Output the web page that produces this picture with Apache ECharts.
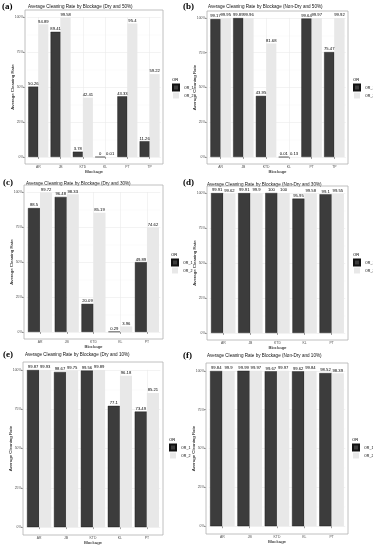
<!DOCTYPE html>
<html><head><meta charset="utf-8">
<script src="https://cdn.jsdelivr.net/npm/echarts@6/dist/echarts.min.js"></script>
<style>html,body{margin:0;padding:0;background:#fff}#c{width:373px;height:550px}</style>
</head><body><div id="c"></div>
<script>
// ---------- data ----------
const catsAB = ['AR', 'JB', 'KTD', 'KL', 'PT', 'TP'];
const catsCF = ['AR', 'JB', 'KTD', 'KL', 'PT'];
const seriesNames = ['OR_1', 'OR_2'];
const yTickValues = [0, 25, 50, 75, 100];

const a_OR1 = [50.26, 89.41, 3.78, 0, 43.33, 11.26];
const a_OR2 = [94.89, 99.58, 42.41, 0.01, 95.4, 59.22];
const b_OR1 = [99.17, 99.89, 43.95, 0.01, 99.64, 75.47];
const b_OR2 = [99.95, 99.96, 81.68, 0.13, 99.97, 99.92];
const c_OR1 = [88.5, 96.48, 20.09, 0.29, 49.89];
const c_OR2 = [99.72, 98.33, 85.19, 3.96, 74.62];
const d_OR1 = [99.91, 99.91, 100, 95.95, 99.1];
const d_OR2 = [99.62, 99.9, 100, 99.58, 99.55];
const e_OR1 = [99.87, 98.67, 99.56, 77.1, 73.49];
const e_OR2 = [99.93, 99.75, 99.89, 96.18, 85.21];
const f_OR1 = [99.84, 99.99, 99.67, 99.62, 98.52];
const f_OR2 = [99.9, 99.97, 99.97, 99.84, 98.39];

const titles = [
  'Average Cleaning Rate by Blockage (Dry and 50%)',
  'Average Cleaning Rate by Blockage (Non-Dry and 50%)',
  'Average Cleaning Rate by Blockage (Dry and 30%)',
  'Average Cleaning Rate by Blockage (Non-Dry and 30%)',
  'Average Cleaning Rate by Blockage (Dry and 10%)',
  'Average Cleaning Rate by Blockage (Non-Dry and 10%)'
];
const tags = ['(a)', '(b)', '(c)', '(d)', '(e)', '(f)'];
const xTitle = 'Blockage';
const yTitle = 'Average Cleaning Rate';
const legendTitle = 'OR';

// ---------- layout (pixels) ----------
const layout = [
  {box: [25, 10, 163, 164], tag: [2, 7], title: [28, 7], leg: [172, 80]},
  {box: [207, 11, 348, 164], tag: [183, 7], title: [208, 7], leg: [353, 80]},
  {box: [24, 185, 163, 339], tag: [3, 183], title: [26, 184], leg: [171, 255]},
  {box: [207, 186, 348, 340], tag: [183, 183], title: [207, 185], leg: [353, 255]},
  {box: [23, 362, 163, 535], tag: [3, 355], title: [25, 355], leg: [169, 440]},
  {box: [206, 363, 348, 534], tag: [183, 356], title: [207, 356], leg: [352, 440]}
];
const panelData = [
  [catsAB, a_OR1, a_OR2], [catsAB, b_OR1, b_OR2],
  [catsCF, c_OR1, c_OR2], [catsCF, d_OR1, d_OR2],
  [catsCF, e_OR1, e_OR2], [catsCF, f_OR1, f_OR2]
];

const FONT = '"Liberation Sans", Arial, sans-serif';
const DARK = '#3c3c3c', LIGHT = '#e8e8e8';

const chart = echarts.init(document.getElementById('c'), null, {renderer: 'canvas'});
const grid = [], xAxis = [], yAxis = [], series = [], legend = [], graphic = [];

layout.forEach((L, i) => {
  const [cats, or1, or2] = panelData[i];
  const [x0, y0, x1, y1] = L.box;
  const n = cats.length;
  const uw = (x1 - x0) / (n + 0.2);
  const uh = (y1 - y0) / 110;
  const gl = x0 + 0.1 * uw, gr = x1 - 0.1 * uw, gt = y0 + 5 * uh, gb = y1 - 5 * uh;
  grid.push({left: gl, top: gt, width: gr - gl, height: gb - gt, show: false,
    containLabel: false, outerBoundsMode: 'none'});
  xAxis.push({
    type: 'category', gridIndex: i, data: cats, offset: 5 * uh,
    axisLine: {show: false},
    axisTick: {show: true, alignWithLabel: true, length: 2, lineStyle: {color: '#444', width: 0.5}},
    axisLabel: {margin: 1.5, fontSize: 3.4, color: '#4d4d4d', fontFamily: FONT},
    splitLine: {show: true, alignWithLabel: true, lineStyle: {color: '#ebebeb', width: 0.6}},
    name: xTitle, nameLocation: 'middle', nameGap: 6, nameMoveOverlap: false,
    nameTextStyle: {fontSize: 4.4, color: '#000', fontFamily: FONT}
  });
  yAxis.push({
    type: 'value', gridIndex: i, min: yTickValues[0], max: yTickValues[yTickValues.length - 1],
    interval: yTickValues[1] - yTickValues[0], offset: 0.1 * uw,
    axisLine: {show: false},
    axisTick: {show: true, length: 2, lineStyle: {color: '#444', width: 0.5}},
    axisLabel: {formatter: '{value}%', margin: 1.5, fontSize: 3.4, color: '#4d4d4d', fontFamily: FONT},
    splitLine: {show: true, lineStyle: {color: '#ebebeb', width: 0.6}},
    minorTick: {show: false, splitNumber: 2},
    minorSplitLine: {show: true, lineStyle: {color: '#f3f3f3', width: 0.4}},
    name: yTitle, nameLocation: 'middle', nameGap: 10, nameRotate: 90, nameMoveOverlap: false,
    nameTextStyle: {fontSize: 4.4, color: '#000', fontFamily: FONT}
  });
  const lbl = {show: true, position: 'top', distance: 0.8, fontSize: 4.2, color: '#000', fontFamily: FONT};
  series.push({type: 'bar', name: seriesNames[0], xAxisIndex: i, yAxisIndex: i, data: or1,
    barWidth: '45%', barGap: '0%', itemStyle: {color: DARK, borderColor: '#111', borderWidth: 0.4},
    label: lbl, animation: false});
  series.push({type: 'bar', name: seriesNames[1], xAxisIndex: i, yAxisIndex: i, data: or2,
    barWidth: '45%', barGap: '0%', itemStyle: {color: LIGHT},
    label: lbl, animation: false});
  legend.push({
    left: L.leg[0], top: L.leg[1] + 3.5, orient: 'vertical', padding: 0,
    itemWidth: 6, itemHeight: 6, itemGap: 1, icon: 'rect', selectedMode: false,
    data: seriesNames, textStyle: {fontSize: 3.6, color: '#000', fontFamily: FONT, overflow: 'none'}
  });
  graphic.push({type: 'rect', silent: true, z: 100,
    shape: {x: x0, y: y0, width: x1 - x0, height: y1 - y0},
    style: {fill: 'none', stroke: '#b0b0b0', lineWidth: 0.8}});
  graphic.push({type: 'text', silent: true, x: L.tag[0], y: L.tag[1],
    style: {text: tags[i], fontSize: 9, fontWeight: 'bold', fontFamily: '"Liberation Serif", serif',
      fill: '#000', align: 'left', verticalAlign: 'middle'}});
  graphic.push({type: 'text', silent: true, x: L.title[0], y: L.title[1],
    style: {text: titles[i], fontSize: 4.6, fontFamily: FONT, fill: '#111', align: 'left', verticalAlign: 'middle'}});
  graphic.push({type: 'text', silent: true, x: L.leg[0], y: L.leg[1],
    style: {text: legendTitle, fontSize: 4.2, fontFamily: FONT, fill: '#000', align: 'left', verticalAlign: 'middle'}});
});

chart.setOption({
  animation: false,
  backgroundColor: '#fff',
  grid, xAxis, yAxis, series, legend, graphic
});
</script>
</body></html>
